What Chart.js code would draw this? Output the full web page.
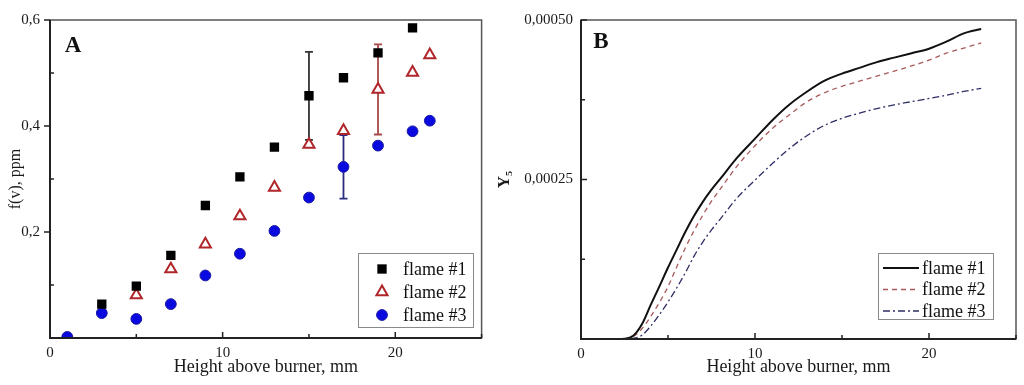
<!DOCTYPE html>
<html>
<head>
<meta charset="utf-8">
<script src="https://cdn.jsdelivr.net/npm/chart.js@4/dist/chart.umd.min.js"></script>
<style>
  html, body { margin: 0; padding: 0; background: #fff; }
  #wrap { position: relative; width: 1024px; height: 385px; overflow: hidden; }
  #left { position: absolute; left: 0; top: 0; }
  #right { position: absolute; left: 490px; top: 0; }
</style>
</head>
<body>
<div id="wrap">
  <canvas id="left" width="490" height="385"></canvas>
  <canvas id="right" width="534" height="385"></canvas>
</div>
<script>
// Panel A: measured soot volume fraction, ppm
const heightsA = [1, 3, 5, 7, 9, 11, 13, 15, 17, 19, 21, 22];
const flame1A = [null, 0.064, 0.098, 0.156, 0.250, 0.304, 0.360, 0.457, 0.491, 0.538, 0.585, null];
const flame2A = [null, null, 0.081, 0.130, 0.177, 0.230, 0.284, 0.365, 0.391, 0.469, 0.501, 0.534];
const flame3A = [0.002, 0.047, 0.036, 0.064, 0.118, 0.159, 0.202, 0.265, 0.323, 0.363, 0.390, 0.410];

// error bars (one per flame)
const errSeries = [0, 1, 2];
const errX = [15, 19, 17];
const errLow = [0.374, 0.384, 0.263];
const errHigh = [0.540, 0.554, 0.383];

// Panel B: computed Y5 mass fraction
const heightsB = [2, 2.5, 3, 3.5, 4, 4.5, 5, 5.5, 6, 6.5, 7, 7.5, 8, 9, 10, 11, 12, 13, 14, 15, 16, 17, 18, 19, 20, 21, 22, 23];
const flame1B = [0, 0.0000005, 0.000005, 0.000023, 0.000053, 0.000082, 0.000112, 0.000140, 0.000168, 0.000193, 0.000215, 0.000234, 0.000251,
  0.000285, 0.000314, 0.000343, 0.000368, 0.000388, 0.000405, 0.000416, 0.000425, 0.000434, 0.000441, 0.000448, 0.000455, 0.000466, 0.000479, 0.000486];
const flame2B = [0, 0, 0.000004, 0.000016, 0.000035, 0.000057, 0.000082, 0.000113, 0.000143, 0.000170, 0.000194, 0.000216, 0.000235,
  0.000272, 0.000303, 0.000330, 0.000352, 0.000372, 0.000386, 0.000396, 0.000404, 0.000412, 0.000420, 0.000428, 0.000437, 0.000448, 0.000456, 0.000464];
const flame3B = [0, 0, 0.000001, 0.000006, 0.000020, 0.000038, 0.000058, 0.000080, 0.000104, 0.000130, 0.000152, 0.000171, 0.000188,
  0.000222, 0.000249, 0.000275, 0.000299, 0.000319, 0.000335, 0.000346, 0.000354, 0.000361, 0.000367, 0.000372, 0.000377, 0.000382, 0.000388, 0.000393];

const labels = ['flame #1', 'flame #2', 'flame #3'];
const xTitle = 'Height above burner, mm';

const SERIF = '"Liberation Serif", "DejaVu Serif", serif';
Chart.defaults.font.family = SERIF;
Chart.defaults.color = '#1a1a1a';

function pts(xs, ys) {
  const out = [];
  xs.forEach((x, i) => { if (ys[i] != null) out.push({ x: x, y: ys[i] }); });
  return out;
}

// box + tick marks + panel letter
const frame = {
  id: 'frame',
  afterDatasetsDraw(chart, args, o) {
    const { ctx, chartArea: a, scales } = chart;
    ctx.save();
    ctx.strokeStyle = '#555';
    ctx.lineWidth = 1.5;
    ctx.strokeRect(a.left, a.top, a.right - a.left, a.bottom - a.top);
    ctx.strokeStyle = '#222';
    ctx.lineWidth = 2;
    ctx.beginPath();
    ctx.moveTo(a.left, a.top);
    ctx.lineTo(a.left, a.bottom);
    ctx.lineTo(a.right, a.bottom);
    ctx.stroke();
    ctx.lineWidth = 1.5;
    ctx.beginPath();
    scales.x.ticks.forEach(t => {
      const px = scales.x.getPixelForValue(t.value);
      const len = t.label ? 6 : 4;
      ctx.moveTo(px, a.bottom);
      ctx.lineTo(px, a.bottom - len);
    });
    scales.y.ticks.forEach(t => {
      const py = scales.y.getPixelForValue(t.value);
      if (t.label) {
        ctx.moveTo(a.left, py);
        ctx.lineTo(o.majorOut ? a.left - 6 : a.left + 6, py);
      } else {
        ctx.moveTo(a.left, py);
        ctx.lineTo(a.left + 4, py);
      }
    });
    ctx.stroke();
    ctx.fillStyle = '#111';
    ctx.font = 'bold 23px ' + SERIF;
    ctx.textAlign = 'center';
    ctx.textBaseline = 'middle';
    ctx.fillText(o.letter, a.left + o.letterDx, a.top + o.letterDy);
    ctx.restore();
  }
};

function drawMarker(ctx, ds, x, y) {
  ctx.save();
  ctx.fillStyle = ds.backgroundColor;
  ctx.strokeStyle = ds.borderColor;
  ctx.lineWidth = ds.borderWidth;
  ctx.beginPath();
  const r = ds.pointRadius;
  if (ds.pointStyle === 'rect') {
    const s = Math.SQRT1_2 * r;
    ctx.rect(x - s, y - s, 2 * s, 2 * s);
  } else if (ds.pointStyle === 'triangle') {
    for (let k = 0; k < 3; k++) {
      const ang = k * 2 * Math.PI / 3;
      const px = x + Math.sin(ang) * r, py = y - Math.cos(ang) * r;
      k ? ctx.lineTo(px, py) : ctx.moveTo(px, py);
    }
    ctx.closePath();
  } else {
    ctx.arc(x, y, r, 0, Math.PI * 2);
  }
  ctx.fill();
  if (ds.borderWidth) ctx.stroke();
  ctx.restore();
}

const boxLegend = {
  id: 'boxLegend',
  afterDraw(chart, args, o) {
    const ctx = chart.ctx;
    ctx.save();
    ctx.fillStyle = '#fff';
    ctx.fillRect(o.x, o.y, o.w, o.h);
    ctx.strokeStyle = '#8a8a8a';
    ctx.lineWidth = 1;
    ctx.strokeRect(o.x + 0.5, o.y + 0.5, o.w, o.h);
    ctx.font = '18px ' + SERIF;
    ctx.textBaseline = 'middle';
    chart.data.datasets.forEach((ds, i) => {
      const cy = o.y + o.first + i * o.step;
      if (o.kind === 'marker') {
        drawMarker(ctx, ds, o.markX, cy);
      } else {
        ctx.save();
        ctx.strokeStyle = ds.borderColor;
        ctx.lineWidth = ds.borderWidth;
        ctx.setLineDash(ds.borderDash || []);
        ctx.beginPath();
        ctx.moveTo(o.markX, cy);
        ctx.lineTo(o.markX + o.lineLen, cy);
        ctx.stroke();
        ctx.restore();
      }
      ctx.fillStyle = '#111';
      ctx.fillText(ds.label, o.textX, cy + 1);
    });
    ctx.restore();
  }
};

const errorBars = {
  id: 'errorBars',
  beforeDatasetsDraw(chart) {
    const { ctx, scales } = chart;
    ctx.save();
    ctx.lineWidth = 1.8;
    errX.forEach((x, i) => {
      const ds = chart.data.datasets[errSeries[i]];
      const px = scales.x.getPixelForValue(x);
      const y1 = scales.y.getPixelForValue(errLow[i]);
      const y2 = scales.y.getPixelForValue(errHigh[i]);
      ctx.strokeStyle = ds.errColor;
      ctx.beginPath();
      ctx.moveTo(px, y1); ctx.lineTo(px, y2);
      ctx.moveTo(px - 4, y1); ctx.lineTo(px + 4, y1);
      ctx.moveTo(px - 4, y2); ctx.lineTo(px + 4, y2);
      ctx.stroke();
    });
    ctx.restore();
  }
};

function xScale(h) {
  return {
    type: 'linear', min: 0, max: 25,
    grid: { display: false, drawTicks: false },
    border: { display: false },
    ticks: {
      stepSize: 5, autoSkip: false, maxRotation: 0, padding: 6,
      font: { size: 15 }, color: '#1a1a1a',
      callback: v => (v % 10 === 0 ? String(v) : '')
    },
    title: { display: true, text: xTitle, font: { size: 18 }, color: '#1a1a1a', padding: { top: 0, bottom: 7 } },
    afterFit: s => { s.height = h; }
  };
}

new Chart(document.getElementById('left'), {
  type: 'scatter',
  data: {
    datasets: [
      { label: labels[0], data: pts(heightsA, flame1A), pointStyle: 'rect', pointRadius: 6.6,
        backgroundColor: '#000', borderColor: '#000', borderWidth: 0, errColor: '#333', clip: 0 },
      { label: labels[1], data: pts(heightsA, flame2A), pointStyle: 'triangle', pointRadius: 6.4,
        backgroundColor: '#fff', borderColor: '#b0262a', borderWidth: 2, errColor: '#a84848', clip: 0 },
      { label: labels[2], data: pts(heightsA, flame3A), pointStyle: 'circle', pointRadius: 5.4,
        backgroundColor: '#0a0ae0', borderColor: '#1818a0', borderWidth: 1, errColor: '#2c2c80', clip: 0 }
    ]
  },
  options: {
    responsive: false,
    animation: false,
    events: [],
    layout: { padding: { top: 20, right: 5, left: 0, bottom: 0 } },
    plugins: {
      legend: { display: false },
      tooltip: { enabled: false },
      frame: { majorOut: true, letter: 'A', letterDx: 23, letterDy: 26 },
      boxLegend: { kind: 'marker', x: 358, y: 253, w: 115, h: 74, first: 16, step: 23, markX: 382, textX: 403 }
    },
    scales: {
      x: xScale(47),
      y: {
        type: 'linear', min: 0, max: 0.6,
        grid: { display: false, drawTicks: false },
        border: { display: false },
        ticks: {
          stepSize: 0.1, autoSkip: false, padding: 10,
          font: { size: 15 }, color: '#1a1a1a',
          callback: v => {
            const k = Math.round(v * 10);
            return (k % 2 === 0 && k > 0) ? (k / 10).toFixed(1).replace('.', ',') : '';
          }
        },
        title: { display: true, text: 'f(v), ppm', font: { size: 16 }, color: '#1a1a1a', padding: { top: 6, bottom: 0 } },
        afterFit: s => { s.width = 50; }
      }
    }
  },
  plugins: [errorBars, frame, boxLegend]
});

new Chart(document.getElementById('right'), {
  type: 'scatter',
  data: {
    datasets: [
      { label: labels[0], data: pts(heightsB, flame1B), showLine: true, pointRadius: 0,
        borderColor: '#111', borderWidth: 2, cubicInterpolationMode: 'monotone' },
      { label: labels[1], data: pts(heightsB, flame2B), showLine: true, pointRadius: 0,
        borderColor: '#a85a5a', borderWidth: 1.3, borderDash: [5, 4], cubicInterpolationMode: 'monotone' },
      { label: labels[2], data: pts(heightsB, flame3B), showLine: true, pointRadius: 0,
        borderColor: '#2e2e66', borderWidth: 1.3, borderDash: [7, 3, 2, 3], cubicInterpolationMode: 'monotone' }
    ]
  },
  options: {
    responsive: false,
    animation: false,
    events: [],
    layout: { padding: { top: 20, right: 8, left: 0, bottom: 0 } },
    plugins: {
      legend: { display: false },
      tooltip: { enabled: false },
      frame: { majorOut: false, letter: 'B', letterDx: 20, letterDy: 22 },
      boxLegend: { kind: 'line', x: 388, y: 253, w: 115, h: 66, first: 15, step: 21.5, markX: 393, lineLen: 36, textX: 432 }
    },
    scales: {
      x: xScale(46),
      y: {
        type: 'linear', min: 0, max: 0.0005,
        grid: { display: false, drawTicks: false },
        border: { display: false },
        ticks: {
          stepSize: 0.000125, autoSkip: false, padding: 8,
          font: { size: 15 }, color: '#1a1a1a',
          callback: v => {
            const k = Math.round(v / 0.000125);
            return (k % 2 === 0 && k > 0) ? (k * 0.000125).toFixed(5).replace('.', ',') : '';
          }
        },
        title: { display: true, text: 'Y₅', font: { size: 17, weight: 'bold' }, color: '#1a1a1a', padding: { top: 4, bottom: 0 } },
        afterFit: s => { s.width = 91; }
      }
    }
  },
  plugins: [frame, boxLegend]
});
</script>
</body>
</html>
